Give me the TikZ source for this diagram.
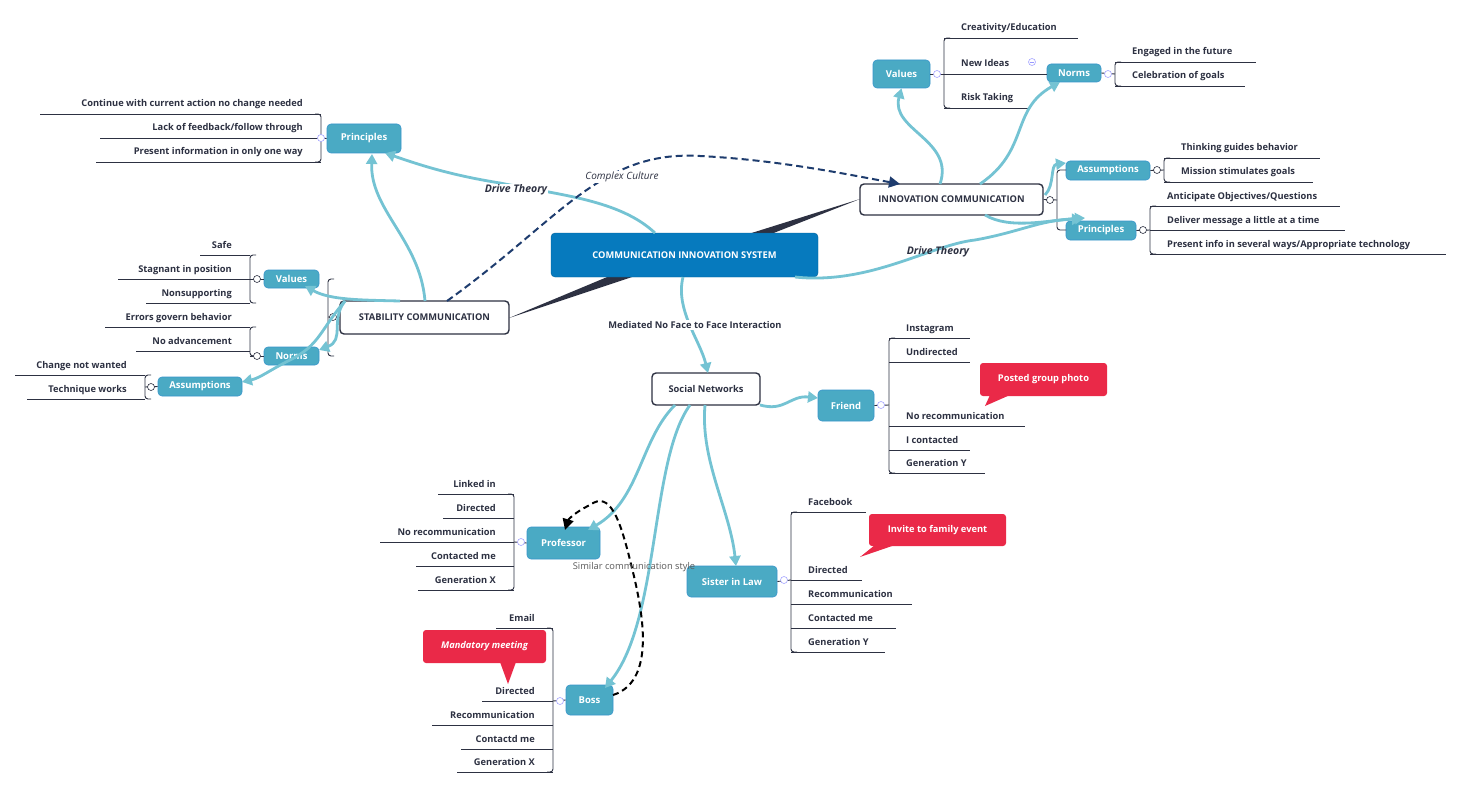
\documentclass[tikz,border=0pt]{standalone}
\usepackage{fontspec}
\setmainfont{Open Sans}
\usetikzlibrary{arrows.meta}
\definecolor{cdark}{RGB}{45,49,66}
\definecolor{cmain}{RGB}{6,122,190}
\definecolor{cblue}{RGB}{74,170,196}
\definecolor{clink}{RGB}{116,195,211}
\definecolor{cred}{RGB}{234,41,72}
\definecolor{cnavy}{RGB}{30,60,110}
\tikzset{
 leafline/.style={draw=cdark,line width=0.9pt},
 leaftext/.style={font=\fontsize{9.3}{10}\selectfont\bfseries,text=cdark,inner sep=0},
 bluebox/.style={draw=cmain!80,line width=0.6pt,fill=cblue,rounded corners=4pt,text=white,font=\fontsize{9.5}{11}\selectfont\bfseries,minimum height=#1,inner sep=0},
 bluebox/.default=19pt,
 whitebox/.style={draw=cdark,line width=1.4pt,fill=white,rounded corners=4pt,text=cdark,font=\fontsize{9.3}{11}\selectfont\bfseries,inner sep=0},
 redbox/.style={fill=cred,rounded corners=3pt,text=white,font=\fontsize{9.3}{11}\selectfont\bfseries,inner sep=0},
 link/.style={draw=clink,line width=2.8pt,-{Triangle[width=11pt,length=10pt]}},
 coll/.style={circle,draw=cdark,line width=0.6pt,fill=white,minimum size=7pt,inner sep=0},
 lcoll/.style={circle,draw=blue!35,line width=0.6pt,fill=white,minimum size=7pt,inner sep=0},
 dtheory/.style={font=\fontsize{10.5}{12}\selectfont\bfseries\itshape,text=cdark},
}
\newcommand\leafR[4]{\draw[leafline] (#1,#2) -- (#3,#2); \node[leaftext,anchor=base west] at (#1+17,#2-7) {#4};}
\newcommand\leafL[4]{\draw[leafline] (#1,#2) -- (#3,#2); \node[leaftext,anchor=base east] at (#1-18,#2-7) {#4};}
\newcommand\brk[4]{\draw[leafline,rounded corners=3pt] (#1+#4,#2) -- (#1,#2) -- (#1,#3) -- (#1+#4,#3);}
\begin{document}
\begin{tikzpicture}[x=1pt,y=-1pt]
\useasboundingbox[fill=white] (0,0) rectangle (1462,789);
% tapered connectors
\fill[cdark] (742,236) -- (766,236) -- (860,199) -- cycle;
\fill[cdark] (612,275) -- (638,275) -- (509,318) -- cycle;
% main nodes
\node[draw=cmain!80!black,fill=cmain,rounded corners=4pt,text=white,font=\fontsize{9.3}{11}\selectfont\bfseries,minimum width=267pt,minimum height=44pt] (cis) at (684.5,255) {COMMUNICATION INNOVATION SYSTEM};
\node[whitebox,minimum width=183pt,minimum height=31pt] (inn) at (951.5,199.5) {INNOVATION COMMUNICATION};
\node[whitebox,minimum width=169pt,minimum height=33pt] (stab) at (424.5,317.5) {STABILITY COMMUNICATION};
\node[whitebox,minimum width=108pt,minimum height=32pt] (soc) at (706,389) {Social Networks};
% blue nodes
\node[bluebox=28pt,minimum width=57pt] (ival) at (901.5,74) {Values};
\node[bluebox=18pt,minimum width=54pt] (inor) at (1074,73) {Norms};
\node[bluebox,minimum width=84pt] (iass) at (1108,170.5) {Assumptions};
\node[bluebox,minimum width=70pt] (ipri) at (1101,230.5) {Principles};
\node[bluebox=29pt,minimum width=74pt] (spri) at (364,138.5) {Principles};
\node[bluebox=18pt,minimum width=55pt] (sval) at (291.5,279) {Values};
\node[bluebox=18pt,minimum width=55pt] (snor) at (291.5,356) {Norms};
\node[bluebox,minimum width=84pt] (sass) at (200,386.5) {Assumptions};
\node[bluebox=31pt,minimum width=56pt] (fri) at (846,405.5) {Friend};
\node[bluebox=32pt,minimum width=73pt] (prof) at (563.5,543) {Professor};
\node[bluebox=31pt,minimum width=90pt] (sis) at (732,581.5) {Sister in Law};
\node[bluebox=30pt,minimum width=47pt] (boss) at (589.5,700) {Boss};
% innovation branches
\brk{944}{38}{108}{6}
\leafR{944}{38}{1078}{Creativity/Education}
\leafR{944}{74}{1047}{New Ideas}
\leafR{944}{108}{1030}{Risk Taking}
\draw[leafline] (ival.east) -- (944,74);
\node[lcoll] (c1) at (937,74) {}; \node[lcoll] (c2) at (1032,62) {};
\draw[blue!40,line width=0.5pt] (c2.west) ++(1.5,0) -- ++(4,0);
\brk{1115}{62}{86}{6}
\leafR{1115}{62}{1256}{Engaged in the future}
\leafR{1115}{86}{1245}{Celebration of goals}
\draw[leafline] (inor.east) -- (1115,74);
\node[lcoll] at (1108,74) {};
\brk{1164}{158}{182}{6}
\leafR{1164}{158}{1320}{Thinking guides behavior}
\leafR{1164}{182}{1313}{Mission stimulates goals}
\draw[leafline] (iass.east) -- (1164,170);
\node[coll] at (1157,170) {};
\brk{1150}{206}{254}{6}
\leafR{1150}{206}{1340}{Anticipate Objectives/Questions}
\leafR{1150}{230}{1345}{Deliver message a little at a time}
\leafR{1150}{254}{1446}{Present info in several ways/Appropriate technology}
\draw[leafline] (ipri.east) -- (1150,230);
\node[coll] at (1143,230) {};
\brk{1057}{170}{230}{9}
\draw[leafline] (inn.east) -- (1057,200);
\node[coll] at (1050,200) {};
% stability branches
\brk{321}{114}{162}{-6}
\leafL{321}{114}{40}{Continue with current action no change needed}
\leafL{321}{138}{100}{Lack of feedback/follow through}
\leafL{321}{162}{96}{Present information in only one way}
\draw[leafline] (spri.west) -- (321,138);
\node[lcoll] at (321,138) {};
\brk{328}{279}{356}{6}
\draw[leafline] (stab.west) -- (328,317);
\node[coll] at (333,317) {};
\brk{250}{255}{303}{6}
\leafL{250}{255}{200}{Safe}
\leafL{250}{279}{118}{Stagnant in position}
\leafL{250}{303}{146}{Nonsupporting}
\draw[leafline] (sval.west) -- (250,279);
\node[coll] at (257,279) {};
\brk{250}{327}{356}{6}
\leafL{250}{327}{105}{Errors govern behavior}
\leafL{250}{351}{136}{No advancement}
\draw[leafline] (snor.west) -- (250,356);
\node[coll] at (257,356) {};
\brk{145}{375}{399}{6}
\leafL{145}{375}{15}{Change not wanted}
\leafL{145}{399}{27}{Technique works}
\draw[leafline] (sass.west) -- (145,387);
\node[coll] at (151,387) {};
% friend
\brk{889}{338}{473}{6}
\leafR{889}{338}{970}{Instagram}
\leafR{889}{362}{970}{Undirected}
\leafR{889}{426}{1025}{No recommunication}
\leafR{889}{450}{970}{I contacted}
\leafR{889}{473}{985}{Generation Y}
\draw[leafline] (fri.east) -- (889,405);
\node[lcoll] at (881,405) {};
% professor
\brk{514}{494}{590}{-6}
\leafL{514}{494}{438}{Linked in}
\leafL{514}{518}{443}{Directed}
\leafL{514}{542}{380}{No recommunication}
\leafL{514}{566}{416}{Contacted me}
\leafL{514}{590}{418}{Generation X}
\draw[leafline] (prof.west) -- (514,542);
\node[lcoll] at (521,542) {};
% sister
\brk{791}{512}{652}{6}
\leafR{791}{512}{866}{Facebook}
\leafR{791}{580}{862}{Directed}
\leafR{791}{604}{912}{Recommunication}
\leafR{791}{628}{896}{Contacted me}
\leafR{791}{652}{885}{Generation Y}
\draw[leafline] (sis.east) -- (791,580);
\node[lcoll] at (784,580) {};
% boss
\brk{553}{628}{772}{-6}
\leafL{553}{628}{496}{Email}
\leafL{553}{701}{482}{Directed}
\leafL{553}{725}{432}{Recommunication}
\leafL{553}{749}{461}{Contactd me}
\leafL{553}{772}{457}{Generation X}
\draw[leafline] (boss.west) -- (553,701);
\node[lcoll] at (560,701) {};
% callouts
\node[redbox,minimum width=127pt,minimum height=33pt] (r1) at (1043.5,379.5) {Posted group photo};
\fill[cred] (990,395) -- (1010,395) -- (985,406) -- cycle;
\node[redbox,minimum width=137pt,minimum height=32pt] (r2) at (937.5,530) {Invite to family event};
\fill[cred] (875,545) -- (895,545) -- (860,557) -- cycle;
\node[redbox,minimum width=123pt,minimum height=33pt,font=\fontsize{9.3}{11}\selectfont\bfseries\itshape] (r3) at (484.5,646.5) {Mandatory meeting};
\fill[cred] (500,662) -- (516,662) -- (508,684) -- cycle;
% blue links
\draw[link] (940,184) .. controls (955,140) and (890,130) .. (ival.south);
\draw[link] (980,184) .. controls (1030,150) and (1010,110) .. (1060,82);
\draw[link] (1045,195) .. controls (1055,185) and (1050,165) .. (1066,163);
\draw[link] (985,215) .. controls (1010,230) and (1050,220) .. (1085,218);
\draw[link] (795,277) .. controls (870,285) and (930,245) .. (975,240) .. controls (1020,232) and (1040,220) .. (1082,219);
\node[dtheory] (dt1) at (938,252) {Drive Theory};
\draw[link] (655,233) .. controls (620,200) and (560,195) .. (500,183) .. controls (450,175) and (420,165) .. (385,153);
\node[dtheory,fill=white,inner sep=1pt] (dt2) at (516,190) {Drive Theory};
\draw[link] (425,301) .. controls (420,240) and (370,210) .. (372,154);
\draw[link] (400,301) .. controls (360,300) and (330,300) .. (305,286);
\draw[link] (345,301) .. controls (330,320) and (345,340) .. (319,350);
\draw[link] (345,301) .. controls (320,330) and (320,345) .. (290,360) .. controls (270,370) and (260,378) .. (242,382);
\draw[link] (683,277) .. controls (675,310) and (700,340) .. (708,373);
\node[font=\fontsize{9.3}{11}\selectfont\bfseries,text=cdark,fill=white,inner sep=1pt] (med) at (695,325) {Mediated No Face to Face Interaction};
\draw[link] (760,405) .. controls (785,412) and (790,395) .. (818,398);
\draw[link] (675,405) .. controls (640,440) and (640,500) .. (588,530);
\draw[link] (690,405) .. controls (650,460) and (660,620) .. (605,688);
\draw[link] (705,405) .. controls (700,460) and (730,510) .. (736,566);
% dashed relations
\draw[cnavy,line width=2pt,dash pattern=on 7pt off 4pt,-{Triangle[width=11pt,length=11pt]}] (447,301) .. controls (560,220) and (600,150) .. (700,156) .. controls (780,160) and (850,175) .. (900,184);
\node[font=\fontsize{10}{12}\selectfont\itshape,text=cdark,fill=white,inner sep=1pt] (cc) at (622,177) {Complex Culture};
\draw[black,line width=2pt,dash pattern=on 6pt off 4pt,-{Triangle[width=11pt,length=11pt]}] (613,695) .. controls (660,680) and (640,600) .. (630,560) .. controls (620,520) and (610,490) .. (590,505) .. controls (575,512) and (568,520) .. (565,530);
\node[font=\fontsize{9.3}{11}\selectfont,text=black!65] (scs) at (634,567) {Similar communication style};
\end{tikzpicture}
\end{document}
